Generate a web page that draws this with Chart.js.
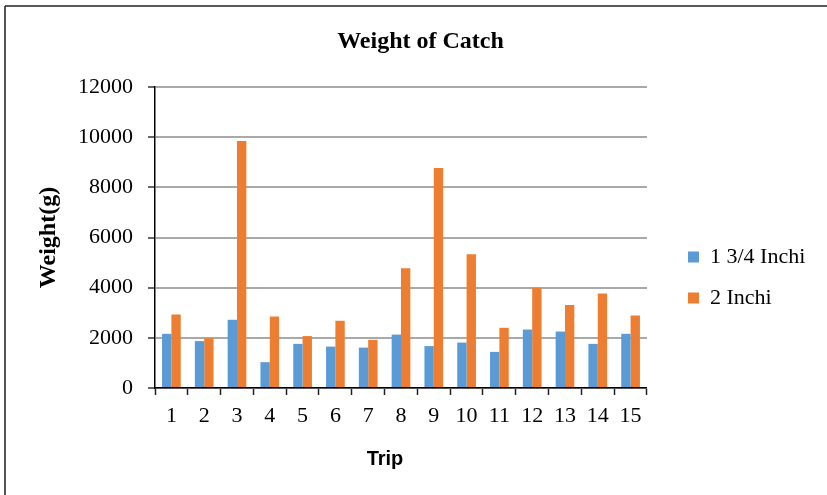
<!DOCTYPE html>
<html>
<head>
<meta charset="utf-8">
<script src="https://cdn.jsdelivr.net/npm/chart.js@4/dist/chart.umd.min.js"></script>
<style>
  html, body { margin: 0; padding: 0; background: #fff; }
  #wrap { width: 827px; height: 495px; }
</style>
</head>
<body>
<div id="wrap"><canvas id="c" width="827" height="495"></canvas></div>
<script>
// Trips and catch weights (grams) per mesh size
const trips = ['1','2','3','4','5','6','7','8','9','10','11','12','13','14','15'];
const mesh134 = [2160, 1870, 2720, 1030, 1760, 1650, 1610, 2130, 1670, 1810, 1440, 2330, 2250, 1760, 2160];
const mesh2 = [2930, 1990, 9850, 2850, 2070, 2680, 1920, 4770, 8770, 5330, 2400, 4000, 3310, 3770, 2890];
const yTicks = [0, 2000, 4000, 6000, 8000, 10000, 12000];

const SERIF = '"Liberation Serif", "Times New Roman", serif';
const SANS = '"Liberation Sans", Arial, sans-serif';

// Frame lines along the left and top edges
const framePlugin = {
  id: 'frame',
  beforeDraw(chart) {
    const ctx = chart.ctx;
    ctx.save();
    ctx.fillStyle = '#fff';
    ctx.fillRect(0, 0, chart.width, chart.height);
    ctx.strokeStyle = '#555';
    ctx.lineWidth = 2;
    ctx.beginPath();
    ctx.moveTo(5, 6);
    ctx.lineTo(5, chart.height);
    ctx.stroke();
    ctx.strokeStyle = '#222';
    ctx.lineWidth = 1.5;
    ctx.beginPath();
    ctx.moveTo(5, 6);
    ctx.lineTo(chart.width, 6);
    ctx.stroke();
    ctx.restore();
  }
};

// Horizontal axis caption
const xCaptionPlugin = {
  id: 'xCaption',
  afterDraw(chart) {
    const ctx = chart.ctx;
    const a = chart.chartArea;
    ctx.save();
    ctx.font = 'bold 20px ' + SANS;
    ctx.fillStyle = '#000';
    ctx.textAlign = 'center';
    ctx.textBaseline = 'middle';
    ctx.fillText('Trip', (a.left + a.right) / 2 - 16, 459);
    ctx.restore();
  }
};

new Chart(document.getElementById('c'), {
  type: 'bar',
  data: {
    labels: trips,
    datasets: [
      { label: '1 3/4 Inchi', data: mesh134, backgroundColor: '#5B9BD5', borderWidth: 0 },
      { label: '2 Inchi', data: mesh2, backgroundColor: '#ED7D31', borderWidth: 0 }
    ]
  },
  options: {
    responsive: false,
    animation: false,
    devicePixelRatio: 1,
    datasets: { bar: { categoryPercentage: 0.57, barPercentage: 1.0 } },
    layout: { padding: { top: 0, left: 25.7, right: 11.7, bottom: 57.6 } },
    plugins: {
      tooltip: { enabled: false },
      title: {
        display: true,
        text: 'Weight of Catch',
        color: '#000',
        font: { family: SERIF, size: 24, weight: 'bold' },
        padding: { top: 27, bottom: 31.2 }
      },
      legend: {
        position: 'right',
        align: 'center',
        maxWidth: 160,
        title: { display: true, text: ' ', font: { size: 10, lineHeight: '117.6px' }, padding: 0 },
        labels: {
          color: '#000',
          font: { family: SERIF, size: 22 },
          boxWidth: 11,
          boxHeight: 11,
          padding: 19
        }
      }
    },
    scales: {
      x: {
        grid: { display: true, drawOnChartArea: false, drawTicks: true, tickLength: 7, tickColor: '#222', tickWidth: 1.5, offset: true },
        border: { display: true, color: '#000', width: 1.5 },
        ticks: { color: '#000', padding: 8, font: { family: SERIF, size: 22 }, maxRotation: 0, autoSkip: false }
      },
      y: {
        min: 0,
        max: 12000,
        afterBuildTicks(scale) { scale.ticks = yTicks.map(v => ({ value: v })); },
        grid: { color: '#a9a9a9', lineWidth: 2, tickLength: 7, tickColor: '#333', tickWidth: 1.5 },
        border: { display: true, color: '#000', width: 1.5 },
        ticks: {
          color: '#000',
          padding: 15,
          font: { family: SERIF, size: 22 },
          callback: (v) => String(v)
        },
        title: {
          display: true,
          text: 'Weight(g)',
          color: '#000',
          font: { family: SERIF, size: 24, weight: 'bold' },
          padding: { top: 8.5, bottom: 0 }
        }
      },
      gap: {
        type: 'linear',
        position: 'right',
        display: true,
        grid: { display: false, drawTicks: false },
        border: { display: false },
        ticks: { display: false },
        afterFit(scale) { scale.width = 22; }
      }
    }
  },
  plugins: [framePlugin, xCaptionPlugin]
});
</script>
</body>
</html>
